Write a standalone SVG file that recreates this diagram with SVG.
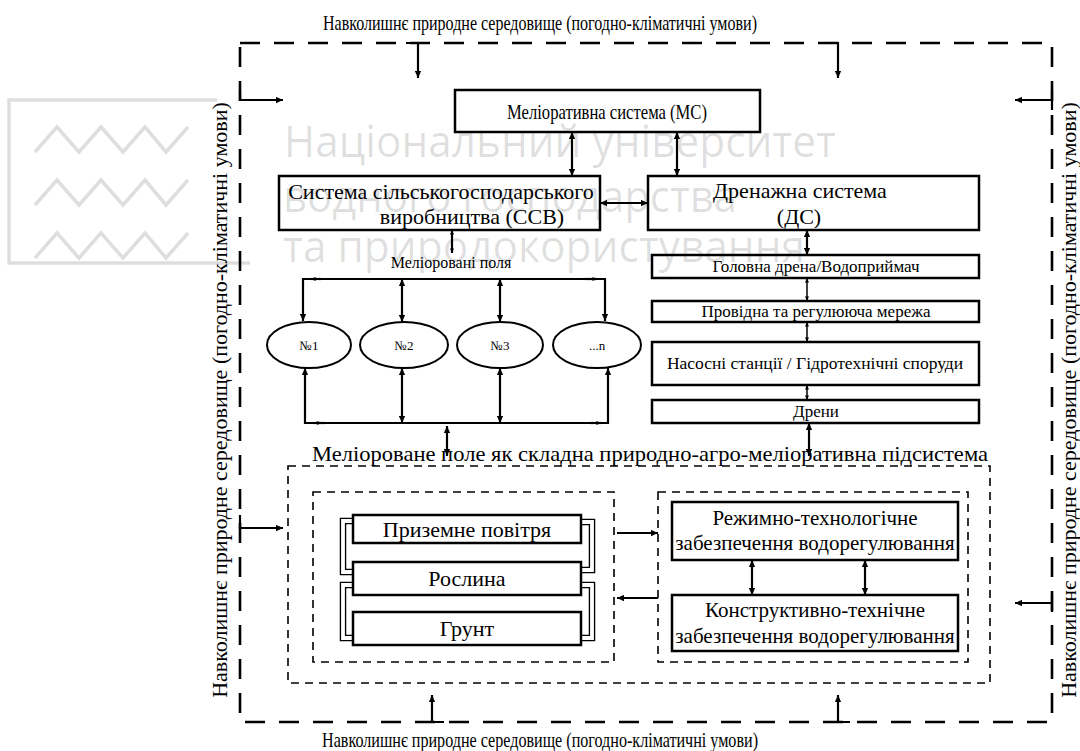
<svg xmlns="http://www.w3.org/2000/svg" width="1080" height="751" viewBox="0 0 1080 751">
<defs>
<marker id="a" viewBox="0 0 10 10" refX="10" refY="5" markerWidth="9" markerHeight="7" orient="auto-start-reverse" markerUnits="userSpaceOnUse"><path d="M0,0.5 L10,5 L0,9.5 z" fill="#000"/></marker>
<marker id="s" viewBox="0 0 10 10" refX="10" refY="5" markerWidth="6" markerHeight="4.5" orient="auto-start-reverse" markerUnits="userSpaceOnUse"><path d="M0,0.5 L10,5 L0,9.5 z" fill="#000"/></marker>
<style>
.bx{fill:#fff;stroke:#000;stroke-width:2.5}
.el{fill:#fff;stroke:#000;stroke-width:2}
.t{font-family:"Liberation Serif","Times New Roman",serif;fill:#000;text-anchor:middle}
.big{font-size:22px}
.env{font-size:21.5px}
.mid{font-size:21px}
.sm{font-size:17px}
.xs{font-size:13px}
.ln{fill:none;stroke:#000;stroke-width:2.2}
.thin{fill:none;stroke:#000;stroke-width:1.5}
.d1{fill:none;stroke:#000;stroke-width:2.6;stroke-dasharray:20 14}
.d2{fill:none;stroke:#000;stroke-width:1.6;stroke-dasharray:8 6}
.br{fill:none;stroke:#000;stroke-width:6.5}
.brw{fill:none;stroke:#fff;stroke-width:3.8}
.wm{font-family:"Open Sans","DejaVu Sans",sans-serif;fill:#000;fill-opacity:0.13}
.wml{fill:none;stroke:#000;stroke-opacity:0.13;stroke-width:3.5}
</style>
</defs>
<rect width="1080" height="751" fill="#fff"/>

<g id="environment">
<rect class="d1" x="240" y="43" width="812" height="679"/>
<text class="t env" x="540" y="30" textLength="434" lengthAdjust="spacingAndGlyphs">Навколишнє природне середовище (погодно-кліматичні умови)</text>
<text class="t env" x="540" y="747" textLength="436" lengthAdjust="spacingAndGlyphs">Навколишнє природне середовище (погодно-кліматичні умови)</text>
<text class="t big" transform="translate(227,400) rotate(-90)">Навколишнє природне середовище (погодно-кліматичні умови)</text>
<text class="t big" transform="translate(1076,400) rotate(-90)">Навколишнє природне середовище (погодно-кліматичні умови)</text>
</g>

<g id="subsystem-frames">
<rect class="d2" x="288" y="466" width="702" height="217"/>
<rect class="d2" x="313" y="492" width="301" height="170"/>
<rect class="d2" x="658" y="492" width="310" height="170"/>
<text class="t big" x="650" y="461" textLength="676" lengthAdjust="spacingAndGlyphs">Меліороване поле як складна природно-агро-меліоративна підсистема</text>
</g>

<g id="connectors">
<path class="ln" d="M406,43 H430 M418,43 V78" marker-end="url(#a)"/>
<path class="ln" d="M824,43 H838 V78" marker-end="url(#a)"/>
<path class="ln" d="M240,90 V100 H283" marker-end="url(#a)"/>
<path class="ln" d="M240,515 V528 H283" marker-end="url(#a)"/>
<path class="ln" d="M1052,90 V110 M1052,100 H1015" marker-end="url(#a)"/>
<path class="ln" d="M1052,594 V612 M1052,603 H1015" marker-end="url(#a)"/>
<path class="ln" d="M420,722 H444 M432,722 V695" marker-end="url(#a)"/>
<path class="ln" d="M826,722 H850 M838,722 V695" marker-end="url(#a)"/>
<path class="ln" d="M572,132 V176" marker-start="url(#a)" marker-end="url(#a)"/>
<path class="ln" d="M677,132 V176" marker-start="url(#a)" marker-end="url(#a)"/>
<path class="ln" d="M600,203 H648" marker-start="url(#a)" marker-end="url(#a)"/>
<path class="ln" d="M807,230 V255" marker-start="url(#a)" marker-end="url(#a)"/>
<path class="thin" d="M807,278 V301" marker-start="url(#s)" marker-end="url(#s)"/>
<path class="thin" d="M807,322 V342" marker-start="url(#s)" marker-end="url(#s)"/>
<path class="thin" d="M807,385 V400" marker-start="url(#s)" marker-end="url(#s)"/>
<path class="ln" d="M809,423 V456" marker-start="url(#a)" marker-end="url(#a)"/>
<path class="ln" d="M452,230 V253" marker-start="url(#s)" marker-end="url(#s)"/>
<path class="ln" d="M303,321 V279 H605 V321" marker-start="url(#a)" marker-end="url(#a)"/>
<path class="ln" d="M321,279 H311" marker-end="url(#s)"/>
<path class="ln" d="M585,279 H597" marker-end="url(#s)"/>
<path class="ln" d="M402,279 V322" marker-start="url(#a)" marker-end="url(#a)"/>
<path class="ln" d="M500,279 V322" marker-start="url(#a)" marker-end="url(#a)"/>
<path class="ln" d="M305,368 V423 H608 V368" marker-start="url(#a)" marker-end="url(#a)"/>
<path class="ln" d="M325,423 H314" marker-end="url(#s)"/>
<path class="ln" d="M590,423 H601" marker-end="url(#s)"/>
<path class="ln" d="M402,368 V423" marker-start="url(#a)" marker-end="url(#a)"/>
<path class="ln" d="M500,368 V423" marker-start="url(#a)" marker-end="url(#a)"/>
<path class="ln" d="M447,426 V456" marker-start="url(#a)" marker-end="url(#a)"/>
<path class="ln" d="M617,533 H658" marker-end="url(#a)"/>
<path class="ln" d="M658,598 H617" marker-end="url(#a)"/>
<path class="ln" d="M752,560 V595" marker-start="url(#a)" marker-end="url(#a)"/>
<path class="ln" d="M865,560 V595" marker-start="url(#a)" marker-end="url(#a)"/>
<path class="br" d="M353,521 H343 V572 H353 M353,585 H343 V638 H353 M581,522 H592 V570 H581 M581,585 H592 V638 H581"/>
<path class="brw" d="M354,521 H343 V572 H354 M354,585 H343 V638 H354 M580,522 H592 V570 H580 M580,585 H592 V638 H580"/>
</g>

<g id="ms"><rect class="bx" x="455" y="90" width="305" height="42"/><text class="t big" x="607" y="119" textLength="200" lengthAdjust="spacingAndGlyphs">Меліоративна система (МС)</text></g>
<g id="ssv"><rect class="bx" x="279" y="176" width="321" height="54"/><text class="t big" x="441" y="199">Система сільськогосподарського</text><text class="t big" x="472" y="224">виробництва (ССВ)</text></g>
<g id="ds"><rect class="bx" x="648" y="176" width="331" height="54"/><text class="t big" x="800" y="198">Дренажна система</text><text class="t big" x="799" y="224">(ДС)</text></g>
<g id="fields-label"><text class="t" style="font-size:16px" x="451" y="268">Меліоровані поля</text></g>
<g id="field1"><ellipse class="el" cx="309" cy="345" rx="42" ry="23"/><text class="t xs" x="309" y="350">№1</text></g>
<g id="field2"><ellipse class="el" cx="404" cy="345" rx="44" ry="23"/><text class="t xs" x="404" y="350">№2</text></g>
<g id="field3"><ellipse class="el" cx="500" cy="345" rx="43" ry="23"/><text class="t xs" x="500" y="350">№3</text></g>
<g id="fieldn"><ellipse class="el" cx="597" cy="345" rx="44" ry="23"/><text class="t xs" x="597" y="350">...n</text></g>
<g id="main-drain"><rect class="bx" x="652" y="255" width="327" height="23"/><text class="t sm" x="816" y="272">Головна дрена/Водоприймач</text></g>
<g id="network"><rect class="bx" x="652" y="301" width="327" height="21"/><text class="t sm" x="816" y="317">Провідна та регулююча мережа</text></g>
<g id="pumps"><rect class="bx" x="652" y="342" width="327" height="43"/><text class="t sm" x="815" y="369" style="font-size:17.5px">Насосні станції / Гідротехнічні споруди</text></g>
<g id="drains"><rect class="bx" x="652" y="400" width="327" height="23"/><text class="t sm" x="816" y="417">Дрени</text></g>
<g id="air"><rect class="bx" x="353" y="515" width="228" height="28"/><text class="t big" x="467" y="537">Приземне повітря</text></g>
<g id="plant"><rect class="bx" x="353" y="562" width="228" height="33"/><text class="t big" x="467" y="586">Рослина</text></g>
<g id="soil"><rect class="bx" x="353" y="612" width="228" height="33"/><text class="t big" x="467" y="636">Грунт</text></g>
<g id="regime"><rect class="bx" x="672" y="502" width="286" height="58"/><text class="t mid" x="815" y="525">Режимно-технологічне</text><text class="t mid" x="815" y="550">забезпечення водорегулювання</text></g>
<g id="construct"><rect class="bx" x="672" y="595" width="286" height="56"/><text class="t mid" x="815" y="617">Конструктивно-технічне</text><text class="t mid" x="815" y="643">забезпечення водорегулювання</text></g>

<g id="watermark">
<path class="wml" d="M217,100 H9 V263 H250"/>
<path class="wml" d="M35,152 L57,127 L79,152 L101,127 L123,152 L145,127 L166,152 L188,127"/>
<path class="wml" d="M35,205 L57,180 L79,205 L101,180 L123,205 L145,180 L166,205 L188,180"/>
<path class="wml" d="M35,258 L57,233 L79,258 L101,233 L123,258 L145,233 L166,258 L188,233"/>
<text class="wm" x="284" y="157" font-size="43" textLength="552" lengthAdjust="spacingAndGlyphs">Національний університет</text>
<text class="wm" x="283" y="212" font-size="43" textLength="454" lengthAdjust="spacingAndGlyphs">водного господарства</text>
<text class="wm" x="283" y="262" font-size="43" textLength="522" lengthAdjust="spacingAndGlyphs">та природокористування</text>
</g>
</svg>
